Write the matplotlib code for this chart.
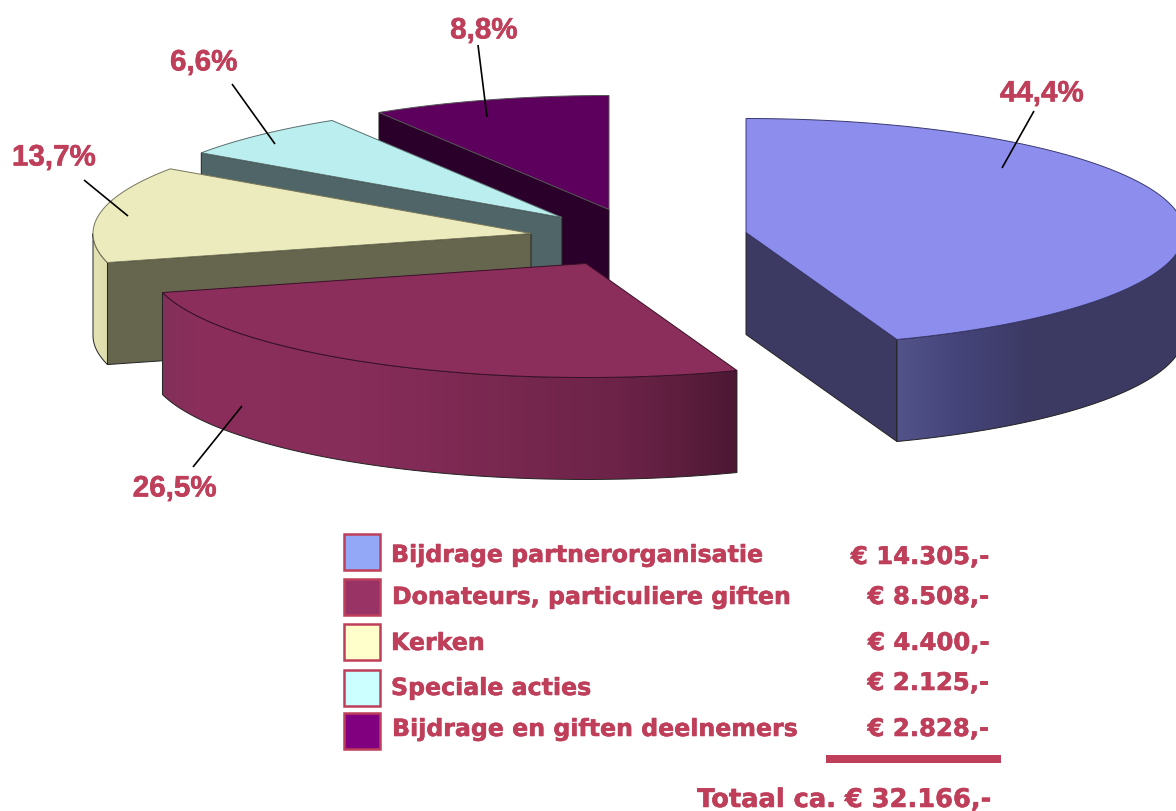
import numpy as np
import matplotlib
matplotlib.use("Agg")
import matplotlib.pyplot as plt
from matplotlib.patches import Polygon, Rectangle
from matplotlib.colors import to_rgb
import matplotlib.patheffects as pe

# ---- data ----
names = ["Bijdrage partnerorganisatie", "Donateurs, particuliere giften", "Kerken",
         "Speciale acties", "Bijdrage en giften deelnemers"]
shares = [44.4, 26.5, 13.7, 6.6, 8.8]
pct_labels = ["44,4%", "26,5%", "13,7%", "6,6%", "8,8%"]
amounts = ["€ 14.305,-", "€ 8.508,-", "€ 4.400,-", "€ 2.125,-", "€ 2.828,-"]
total_label = "Totaal ca. € 32.166,-"

# ---- layout and style (pixel space) ----
W, H = 1176, 811
RX, RY, DEPTH = 438, 114, 102
apex = [(746, 232.5), (586, 263.5), (531, 233.5), (562, 217.5), (609, 209.5)]
top_col = ["#8d8dee", "#8b2e5c", "#ecebbd", "#bbeeee", "#5d005d"]
side_col = ["#3c3a63", "#5a1c3c", "#66664f", "#4f6568", "#2a002a"]
edge_col = ["#3a3a70", "#3a1028", "#77775a", "#5a7070", "#555555"]
wall_stops = [
    [(896, "#53548a"), (960, "#44447a"), (1030, "#3c3a63"), (1180, "#3c3a63")],
    [(163, "#82305a"), (200, "#8b2e5c"), (360, "#872d5a"), (500, "#792850"),
     (620, "#6c2347"), (680, "#5e1e3e"), (737, "#4c1834")],
    [(90, "#e4e4b6"), (110, "#dcdcac")],
    [(0, "#4f6568"), (1, "#4f6568")],
    [(0, "#2a002a"), (1, "#2a002a")],
]
draw_order = [4, 3, 2, 1, 0]
leaders = [((1034, 111), (1002, 168)), ((193, 467), (242, 406)), ((84, 180), (128, 216)),
           ((232, 84), (275, 144)), ((478, 45), (487, 117))]
label_pos = [(1042, 93.5), (175, 488.5), (54, 157.5), (204, 62.5), (484, 30.5)]
legend_boxes = [(534, "#93a8f6"), (579, "#993366"), (624, "#ffffcc"), (670, "#ccffff"), (713, "#800080")]
name_xy = [(391, 562), (392, 604), (391, 650), (391, 695), (392, 736)]
amount_y = [564, 604, 650, 690, 736]
TXT = "#bf3f5a"
NAME_FS, AMOUNT_FS, TOTAL_FS = 17.05, 17.5, 18.5
THICK = [pe.withStroke(linewidth=0.4, foreground=TXT)]

fig = plt.figure(figsize=(W / 100, H / 100), dpi=100, facecolor="white")
ax = fig.add_axes([0, 0, 1, 1])


def pt(c, deg, dz=0.0):
    t = np.radians(deg)
    return c[0] + RX * np.sin(t), c[1] - RY * np.cos(t) + dz


def arc(c, a0, a1, dz=0.0, n=120):
    x, y = pt(c, np.linspace(a0, a1, n), dz)
    return np.column_stack([x, y])


edges = np.concatenate([[0], np.cumsum(shares) / np.sum(shares) * 360])
z = 1
for i in draw_order:
    a0, a1 = edges[i], edges[i + 1]
    c = apex[i]
    # straight side wall that faces the viewer
    for ang, visible in ((a0, np.sin(np.radians(a0)) < -1e-6), (a1, np.sin(np.radians(a1)) > 1e-6)):
        if visible:
            p = pt(c, ang)
            ax.add_patch(Polygon([c, p, (p[0], p[1] + DEPTH), (c[0], c[1] + DEPTH)], closed=True,
                                 fc=side_col[i], ec="#222222", lw=0.7, zorder=z))
            z += 1
    # curved wall with a horizontal shading
    lo, hi = max(a0, 90), min(a1, 270)
    if lo < hi:
        t = arc(c, lo, hi)
        b = arc(c, lo, hi, DEPTH)
        poly = np.vstack([t, b[::-1]])
        xs = np.linspace(poly[:, 0].min(), poly[:, 0].max(), 512)
        sx = [s[0] for s in wall_stops[i]]
        rgb = np.array([to_rgb(s[1]) for s in wall_stops[i]])
        grad = np.stack([np.interp(xs, sx, rgb[:, k]) for k in range(3)], axis=-1)[None, :, :]
        im = ax.imshow(grad, extent=(xs[0], xs[-1], poly[:, 1].max(), poly[:, 1].min()),
                       aspect="auto", zorder=z, interpolation="bilinear")
        clip = Polygon(poly, closed=True, transform=ax.transData, fc="none", ec="none")
        ax.add_patch(clip)
        im.set_clip_path(clip)
        ax.add_patch(Polygon(poly, closed=True, fc="none", ec="#222222", lw=0.7, zorder=z + 0.5))
        z += 1
    # top face
    top = np.vstack([[c], arc(c, a0, a1)])
    ax.add_patch(Polygon(top, closed=True, fc=top_col[i], ec=edge_col[i], lw=0.7, zorder=z))
    z += 1

ax.set_xlim(0, W)
ax.set_ylim(H, 0)
ax.axis("off")

z = 50
for (p, q) in leaders:
    ax.plot([p[0], q[0]], [p[1], q[1]], color="black", lw=1.2, zorder=z, solid_capstyle="butt")
for s, (x, y) in zip(pct_labels, label_pos):
    ax.text(x, y, s, color=TXT, fontsize=21.3, family="Liberation Sans", fontweight="bold",
            ha="center", va="center", zorder=z, path_effects=THICK)

for (y, col) in legend_boxes:
    ax.add_patch(Rectangle((343.5, y), 36, 36, fc=col, ec=TXT, lw=1.8, zorder=z))
for s, (x, y) in zip(names, name_xy):
    ax.text(x, y, s, color=TXT, fontsize=NAME_FS, family="DejaVu Sans", fontweight="bold",
            ha="left", va="baseline", zorder=z, path_effects=THICK)
for s, y in zip(amounts, amount_y):
    ax.text(989, y, s, color=TXT, fontsize=AMOUNT_FS, family="DejaVu Sans", fontweight="bold",
            ha="right", va="baseline", zorder=z, path_effects=THICK)
ax.add_patch(Rectangle((826, 755), 175, 8, fc=TXT, ec="none", zorder=z))
ax.text(992, 807, total_label, color=TXT, fontsize=TOTAL_FS, family="DejaVu Sans", fontweight="bold",
        ha="right", va="baseline", zorder=z, path_effects=THICK)

fig.savefig("out.png", dpi=100, facecolor="white")
